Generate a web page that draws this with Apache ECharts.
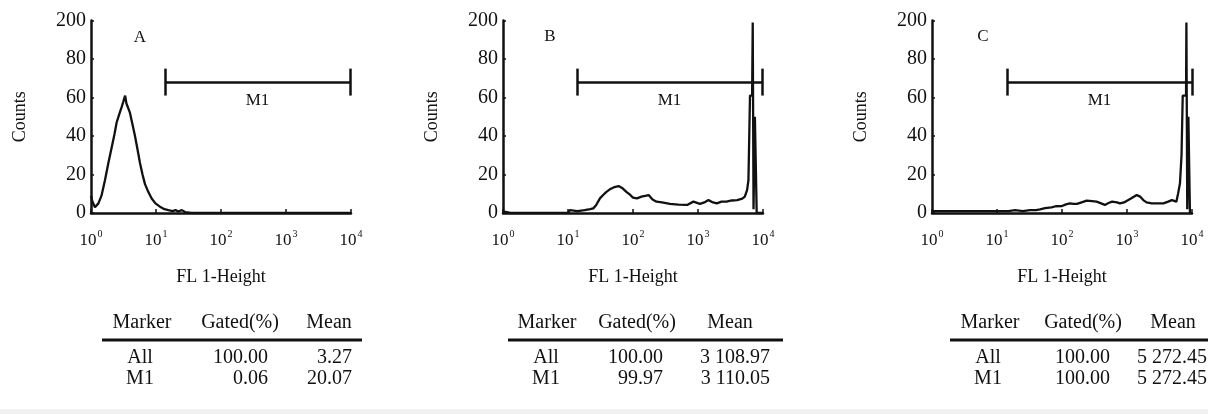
<!DOCTYPE html>
<html>
<head>
<meta charset="utf-8">
<script src="https://cdn.jsdelivr.net/npm/echarts@6.0.0/dist/echarts.min.js"></script>
<style>
  html, body { margin: 0; padding: 0; background: #fff; }
  #chart { width: 1208px; height: 414px; }
</style>
</head>
<body>
<div id="chart"></div>
<script>
// FL1 channel values and counts
const xA = [1, 1.05, 1.15, 1.3, 1.45, 1.64, 1.85, 2.08, 2.3, 2.48, 2.7, 2.96, 3.15, 3.35, 3.5, 3.7, 3.98, 4.35, 4.75, 5.2, 5.67, 6.2, 6.77, 7.6, 8.58, 9.8, 11.5, 13.5, 15.5, 18, 20, 22, 25, 28, 35, 10000]
const countsA = [9, 6, 3, 5, 9, 17, 26, 34, 41, 47, 51, 55, 58, 61, 57, 56, 52, 46, 40, 33, 26, 20, 15, 11, 7.5, 5, 3.3, 2, 1.5, 1, 1.5, 0.8, 1.5, 0.5, 0, 0]

const xB = [1, 1.3, 10, 10.7, 14, 18, 22, 24.5, 27, 31, 35, 39, 45, 52, 60, 68, 79, 90, 100, 115, 135, 160, 174, 200, 230, 280, 370, 500, 680, 850, 1070, 1250, 1450, 1700, 1950, 2300, 2750, 3300, 4000, 4800, 5250, 5700, 5970, 6310, 6800, 6950, 7050, 7150, 7500, 7900, 8000, 10000]
const countsB = [0.8, 0, 0, 1.5, 1, 1.5, 2, 2.4, 4, 7.6, 9.5, 11, 12.5, 13.5, 14, 13, 11, 9.5, 8, 7.6, 8.5, 9, 9.3, 7, 5.9, 5.5, 4.7, 4.3, 4.2, 5.9, 4.7, 5.5, 6.7, 5.5, 5, 5.9, 5.9, 6.5, 6.7, 7.5, 8.5, 12, 17, 61, 61, 99, 99, 2, 50, 50, 0, 0]

const xC = [1, 10, 15, 19, 25, 32, 40, 46, 55, 69, 80, 100, 115, 132, 150, 170, 200, 240, 290, 340, 400, 457, 520, 590, 700, 780, 900, 1000, 1150, 1410, 1600, 1780, 2000, 2400, 3000, 3630, 4300, 4900, 5250, 5750, 6100, 6530, 6900, 7200, 8100, 8200, 8350, 8450, 8800, 9200, 9300, 10000]
const countsC = [1, 1, 1, 1.5, 1, 1.5, 1.5, 1.9, 2.5, 2.9, 3.5, 3.6, 4.5, 5, 4.7, 4.7, 5.5, 6.4, 6.2, 5.9, 5, 4.2, 5.2, 5.9, 5.5, 5, 5.5, 6.4, 7.5, 9.3, 8.5, 6.7, 5.5, 5, 5, 5, 5.9, 6.7, 6, 5.9, 10, 15.4, 30, 61, 61, 99, 99, 2, 50, 50, 0, 0]

// M1 gate bounds and level
const panelNames = ['A', 'B', 'C']
const gateA = [13.7, 9700]
const gateB = [13.8, 9650]
const gateC = [14.3, 10000]
const gateLevel = 68
const gateCap = [61, 75]

const yTicks = [0, 20, 40, 60, 80, 100]
const yTickLabels = ['0', '20', '40', '60', '80', '200']

// statistics tables
const tableHead = ['Marker', 'Gated(%)', 'Mean']
const rowNames = ['All', 'M1']
const gatedA = ['100.00', '0.06']
const meanA = ['3.27', '20.07']
const gatedB = ['100.00', '99.97']
const meanB = ['3 108.97', '3 110.05']
const gatedC = ['100.00', '100.00']
const meanC = ['5 272.45', '5 272.45']

const FONT = '"Liberation Serif", "Times New Roman", serif'
const INK = '#111'

const panels = [
  { x: xA, y: countsA, gate: gateA, left: 91, letter: [140, 38],
    tab: { head: [142, 240, 329], rule: [102, 362], name: 140, gated: 268, mean: 352, meanAlign: 'right', gatedVals: gatedA, meanVals: meanA } },
  { x: xB, y: countsB, gate: gateB, left: 503, letter: [550, 37],
    tab: { head: [547, 637, 730], rule: [508, 783], name: 546, gated: 663, mean: 770, meanAlign: 'right', gatedVals: gatedB, meanVals: meanB } },
  { x: xC, y: countsC, gate: gateC, left: 932, letter: [983, 37],
    tab: { head: [990, 1083, 1173], rule: [950, 1208], name: 988, gated: 1110, mean: 1137, meanAlign: 'left', gatedVals: gatedC, meanVals: meanC } }
]

const chart = echarts.init(document.getElementById('chart'))

const grids = []
const xAxes = []
const yAxes = []
const series = []
const graphics = []

panels.forEach((p, i) => {
  grids.push({ left: p.left, top: 20.5, width: 260, height: 192.5, outerBoundsMode: 'none' })
  xAxes.push({
    gridIndex: i,
    type: 'log',
    logBase: 10,
    min: 1,
    max: 10000,
    splitLine: { show: false },
    axisLine: { lineStyle: { color: INK, width: 2.5 } },
    axisTick: { inside: true, length: 4, lineStyle: { color: INK, width: 1.5 } },
    axisLabel: {
      margin: 16,
      formatter: v => '{b|10}{s|' + Math.round(Math.log10(v)) + '}',
      rich: {
        b: { fontFamily: FONT, fontSize: 17, color: INK, lineHeight: 20, verticalAlign: 'bottom' },
        s: { fontFamily: FONT, fontSize: 10, color: INK, lineHeight: 20, verticalAlign: 'top', padding: [0, 0, 0, 1] }
      }
    },
    name: 'FL 1-Height',
    nameLocation: 'middle',
    nameGap: 55,
    nameTextStyle: { fontFamily: FONT, fontSize: 18, color: INK }
  })
  yAxes.push({
    gridIndex: i,
    type: 'value',
    min: 0,
    max: 100,
    interval: 20,
    splitLine: { show: false },
    axisLine: { show: true, lineStyle: { color: INK, width: 2.5 } },
    axisTick: { show: true, inside: true, length: 3, lineStyle: { color: INK, width: 1.5 } },
    axisLabel: {
      margin: 5,
      fontFamily: FONT,
      fontSize: 20,
      color: INK,
      formatter: v => yTickLabels[yTicks.indexOf(v)]
    },
    name: 'Counts',
    nameLocation: 'middle',
    nameGap: 62,
    nameTextStyle: { fontFamily: FONT, fontSize: 18, color: INK }
  })

  const capLine = g => [{ coord: [g, gateCap[0]] }, { coord: [g, gateCap[1]] }]
  series.push({
    type: 'line',
    xAxisIndex: i,
    yAxisIndex: i,
    data: p.x.map((v, k) => [v, p.y[k]]),
    showSymbol: false,
    lineStyle: { color: INK, width: 2.3 },
    silent: true,
    markLine: {
      silent: true,
      symbol: 'none',
      lineStyle: { color: INK, width: 2.5, type: 'solid' },
      label: { show: false },
      data: [
        [
          { coord: [p.gate[0], gateLevel],
            label: { show: true, position: 'insideMiddleBottom', distance: 10, formatter: 'M1', fontFamily: FONT, fontSize: 17, color: INK } },
          { coord: [p.gate[1], gateLevel] }
        ],
        capLine(p.gate[0]),
        capLine(p.gate[1])
      ]
    }
  })

  graphics.push({
    type: 'text', x: p.letter[0], y: p.letter[1],
    style: { text: panelNames[i], font: '17px ' + FONT, fill: INK, align: 'center', verticalAlign: 'middle' }
  })

  const t = p.tab
  tableHead.forEach((h, k) => {
    graphics.push({
      type: 'text', x: t.head[k], y: 323,
      style: { text: h, font: '20px ' + FONT, fill: INK, align: 'center', verticalAlign: 'middle' }
    })
  })
  graphics.push({
    type: 'line',
    shape: { x1: t.rule[0], y1: 340, x2: t.rule[1], y2: 340 },
    style: { stroke: INK, lineWidth: 3 }
  })
  rowNames.forEach((r, k) => {
    const ry = 358 + k * 21
    graphics.push({
      type: 'text', x: t.name, y: ry,
      style: { text: r, font: '20px ' + FONT, fill: INK, align: 'center', verticalAlign: 'middle' }
    })
    graphics.push({
      type: 'text', x: t.gated, y: ry,
      style: { text: t.gatedVals[k], font: '20px ' + FONT, fill: INK, align: 'right', verticalAlign: 'middle' }
    })
    graphics.push({
      type: 'text', x: t.mean, y: ry,
      style: { text: t.meanVals[k], font: '20px ' + FONT, fill: INK, align: t.meanAlign, verticalAlign: 'middle' }
    })
  })
})

graphics.push({
  type: 'rect', shape: { x: 0, y: 409, width: 1208, height: 5 },
  style: { fill: '#f1f1f1' }, z: -1
})

chart.setOption({
  backgroundColor: '#fff',
  animation: false,
  grid: grids,
  xAxis: xAxes,
  yAxis: yAxes,
  series: series,
  graphic: graphics
})
</script>
</body>
</html>
